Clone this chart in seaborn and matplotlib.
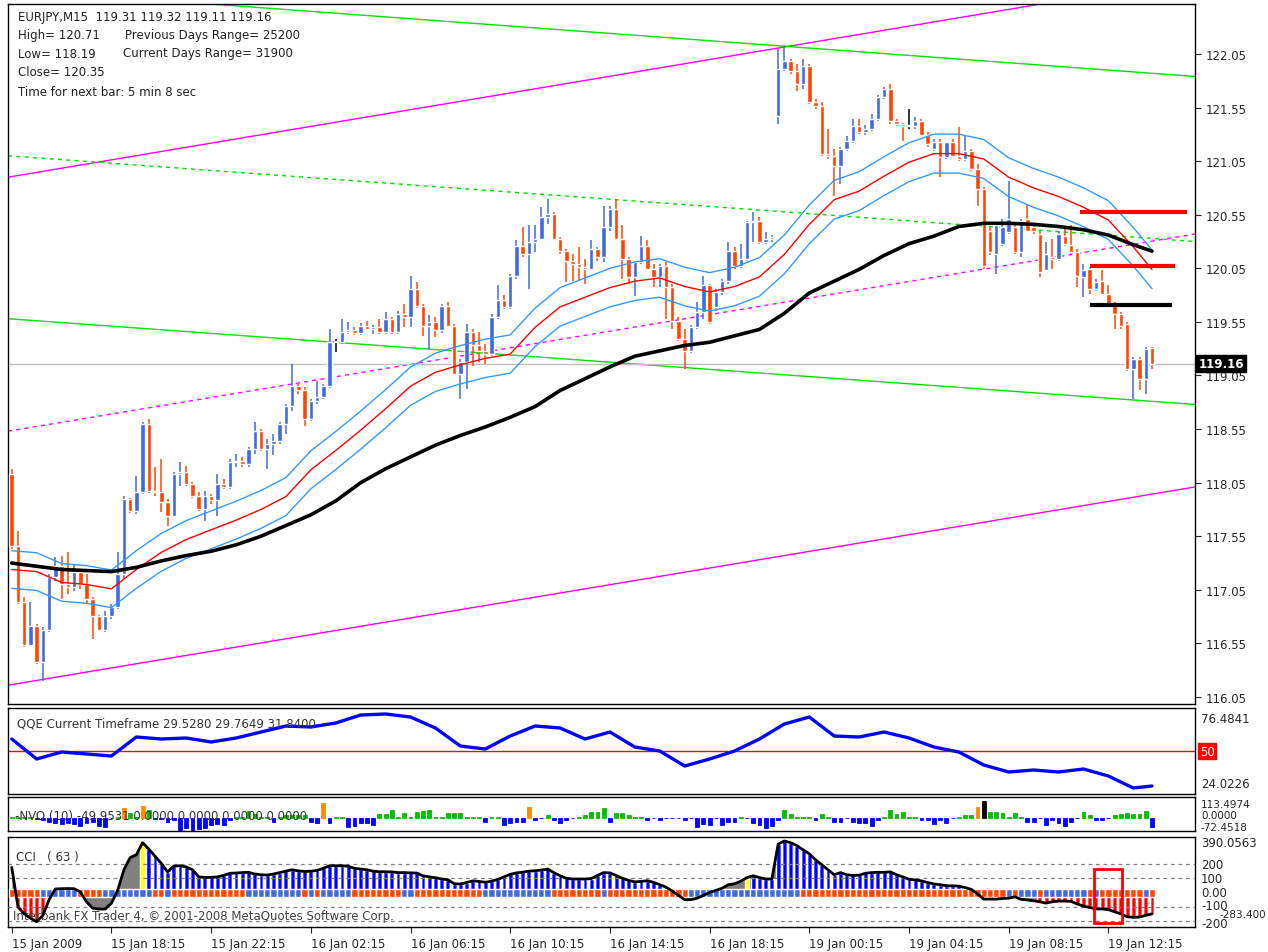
import numpy as np
import pandas as pd
import seaborn as sns
import matplotlib.pyplot as plt
import matplotlib.transforms as mtrans
from matplotlib.patches import Rectangle

sns.set_style('white')
plt.rcParams['font.family'] = ['DejaVu Sans']

# EURJPY M15 candles, 15 Jan 14:15 -> 19 Jan 14:00
opens = [118.13, 117.46, 116.94, 116.54, 116.71, 116.38, 116.68, 117.17, 117.27, 117.10,
         117.08, 117.22, 117.10, 116.96, 116.81, 116.68, 116.81, 116.89, 117.20, 117.90,
         117.79, 117.96, 118.60, 117.97, 117.96, 117.87, 117.74, 118.13, 118.15, 118.04,
         117.93, 117.80, 117.93, 117.89, 118.04, 118.01, 118.24, 118.25, 118.22, 118.36,
         118.53, 118.36, 118.41, 118.44, 118.60, 118.77, 118.95, 118.91, 118.64, 118.81,
         118.85, 118.95, 119.36, 119.36, 119.46, 119.47, 119.45, 119.51, 119.48, 119.50,
         119.46, 119.58, 119.46, 119.62, 119.60, 119.86, 119.70, 119.51, 119.55, 119.47,
         119.70, 119.51, 119.06, 119.18, 119.46, 119.33, 119.28, 119.25, 119.60, 119.75,
         119.69, 119.98, 120.26, 120.18, 120.30, 120.32, 120.53, 120.56, 120.32, 120.21,
         120.12, 120.09, 120.06, 120.04, 120.23, 120.16, 120.44, 120.60, 120.32, 120.14,
         119.97, 120.11, 120.26, 120.04, 119.97, 120.07, 119.88, 119.56, 119.39, 119.28,
         119.50, 119.64, 119.89, 119.69, 119.83, 119.93, 120.21, 120.07, 120.14, 120.48,
         120.49, 120.30, 120.32, 121.47, 121.91, 121.98, 121.89, 121.77, 121.94, 121.60,
         121.56, 121.12, 121.10, 121.00, 121.16, 121.24, 121.38, 121.32, 121.35, 121.44,
         121.65, 121.72, 121.42, 121.40, 121.38, 121.38, 121.42, 121.29, 121.16, 121.23,
         121.09, 121.23, 121.10, 121.07, 121.14, 120.98, 120.79, 120.40, 120.18, 120.28,
         120.39, 120.44, 120.20, 120.51, 120.44, 120.37, 120.03, 120.16, 120.14, 120.35,
         120.27, 120.20, 119.97, 120.04, 119.86, 119.93, 119.81, 119.72, 119.62, 119.53,
         119.11, 119.20, 119.02, 119.31]
highs = [118.18, 117.60, 116.98, 116.94, 116.73, 116.70, 117.20, 117.36, 117.37, 117.40,
         117.29, 117.24, 117.20, 116.98, 116.82, 116.85, 116.92, 117.40, 117.93, 117.91,
         118.11, 118.62, 118.64, 118.20, 118.27, 117.90, 118.15, 118.24, 118.21, 118.06,
         117.96, 117.97, 117.94, 118.13, 118.08, 118.27, 118.32, 118.29, 118.38, 118.62,
         118.55, 118.46, 118.50, 118.62, 118.78, 119.16, 118.97, 118.94, 118.83, 119.00,
         118.97, 119.48, 119.39, 119.58, 119.55, 119.50, 119.54, 119.56, 119.52, 119.58,
         119.64, 119.60, 119.65, 119.72, 119.98, 119.92, 119.72, 119.61, 119.60, 119.72,
         119.74, 119.53, 119.20, 119.53, 119.48, 119.46, 119.34, 119.62, 119.89, 119.80,
         120.00, 120.31, 120.44, 120.45, 120.45, 120.62, 120.70, 120.58, 120.34, 120.23,
         120.18, 120.25, 120.14, 120.31, 120.25, 120.63, 120.63, 120.70, 120.45, 120.16,
         120.12, 120.35, 120.31, 120.09, 120.09, 120.11, 119.90, 119.60, 119.48, 119.52,
         119.74, 119.98, 119.90, 119.86, 119.95, 120.30, 120.25, 120.28, 120.49, 120.58,
         120.53, 120.39, 120.36, 122.10, 122.12, 122.00, 121.96, 122.00, 121.96, 121.63,
         121.60, 121.35, 121.16, 121.18, 121.28, 121.44, 121.44, 121.39, 121.49, 121.67,
         121.74, 121.77, 121.44, 121.41, 121.54, 121.46, 121.44, 121.32, 121.26, 121.26,
         121.23, 121.26, 121.37, 121.29, 121.16, 121.02, 120.81, 120.44, 120.46, 120.51,
         120.86, 120.46, 120.51, 120.65, 120.46, 120.40, 120.30, 120.32, 120.40, 120.44,
         120.45, 120.23, 120.09, 120.06, 119.95, 120.03, 119.89, 119.74, 119.64, 119.55,
         119.22, 119.22, 119.32, 119.32]
lows = [117.43, 116.92, 116.52, 116.53, 116.36, 116.20, 116.66, 117.13, 116.96, 117.01,
        117.04, 117.06, 116.92, 116.59, 116.67, 116.66, 116.78, 116.87, 117.15, 117.77,
        117.76, 117.94, 117.95, 117.93, 117.78, 117.65, 117.73, 118.02, 118.02, 117.91,
        117.79, 117.69, 117.85, 117.74, 117.99, 117.99, 118.20, 118.20, 118.20, 118.32,
        118.35, 118.18, 118.31, 118.41, 118.50, 118.72, 118.88, 118.58, 118.63, 118.78,
        118.83, 118.93, 119.27, 119.34, 119.44, 119.43, 119.43, 119.47, 119.44, 119.44,
        119.44, 119.44, 119.44, 119.50, 119.50, 119.68, 119.42, 119.30, 119.41, 119.45,
        119.50, 119.05, 118.83, 118.92, 119.14, 119.18, 119.16, 119.23, 119.58, 119.67,
        119.67, 119.95, 120.16, 119.86, 120.20, 120.31, 120.46, 120.31, 120.18, 119.92,
        119.93, 119.93, 119.90, 120.03, 120.12, 120.11, 120.40, 120.31, 119.95, 119.90,
        119.79, 120.09, 120.03, 119.88, 119.88, 119.58, 119.48, 119.37, 119.11, 119.26,
        119.48, 119.58, 119.53, 119.65, 119.80, 119.90, 120.04, 120.05, 120.12, 120.30,
        120.28, 120.28, 120.30, 121.40, 121.89, 121.86, 121.70, 121.72, 121.58, 121.54,
        121.10, 121.07, 120.72, 120.84, 121.14, 121.22, 121.30, 121.29, 121.33, 121.42,
        121.63, 121.40, 121.38, 121.24, 121.35, 121.35, 121.28, 121.18, 121.14, 120.90,
        121.07, 121.09, 121.05, 121.05, 120.96, 120.63, 120.04, 120.17, 120.00, 120.26,
        120.37, 120.18, 120.16, 120.39, 120.37, 119.97, 120.03, 120.04, 120.12, 120.26,
        120.18, 119.88, 119.78, 119.81, 119.84, 119.80, 119.70, 119.48, 119.48, 119.09,
        118.83, 118.91, 118.88, 119.11]
closes = [117.46, 116.94, 116.54, 116.71, 116.38, 116.68, 117.17, 117.27, 117.10, 117.08,
          117.22, 117.10, 116.96, 116.81, 116.68, 116.81, 116.89, 117.20, 117.90, 117.79,
          117.96, 118.60, 117.97, 117.96, 117.87, 117.74, 118.13, 118.15, 118.04, 117.93,
          117.80, 117.93, 117.89, 118.04, 118.01, 118.24, 118.25, 118.22, 118.36, 118.53,
          118.36, 118.41, 118.44, 118.60, 118.77, 118.95, 118.91, 118.64, 118.81, 118.85,
          118.95, 119.36, 119.36, 119.46, 119.47, 119.45, 119.51, 119.48, 119.50, 119.46,
          119.58, 119.46, 119.62, 119.60, 119.86, 119.70, 119.51, 119.55, 119.47, 119.70,
          119.51, 119.06, 119.18, 119.46, 119.33, 119.28, 119.25, 119.60, 119.75, 119.69,
          119.98, 120.26, 120.18, 120.30, 120.32, 120.53, 120.56, 120.32, 120.21, 120.12,
          120.09, 120.06, 120.04, 120.23, 120.16, 120.44, 120.60, 120.32, 120.14, 119.97,
          120.11, 120.26, 120.04, 119.97, 120.07, 119.88, 119.56, 119.39, 119.28, 119.50,
          119.64, 119.89, 119.55, 119.83, 119.93, 120.21, 120.07, 120.14, 120.48, 120.49,
          120.30, 120.32, 120.34, 121.91, 121.98, 121.89, 121.77, 121.94, 121.60, 121.56,
          121.12, 121.10, 121.00, 121.16, 121.24, 121.38, 121.32, 121.35, 121.44, 121.65,
          121.72, 121.42, 121.40, 121.38, 121.38, 121.42, 121.29, 121.21, 121.23, 121.09,
          121.23, 121.10, 121.07, 121.14, 120.98, 120.79, 120.07, 120.20, 120.45, 120.44,
          120.51, 120.20, 120.49, 120.40, 120.40, 120.02, 120.18, 120.14, 120.37, 120.28,
          120.20, 119.98, 120.03, 119.86, 119.92, 119.81, 119.72, 119.62, 119.51, 119.11,
          119.20, 119.02, 119.30, 119.16]

# moving averages / QQE, read every 4th bar
ma_idx = list(range(0, 184, 4)) + [183]
black_ma = [117.30, 117.27, 117.24, 117.23, 117.22, 117.26, 117.32, 117.37, 117.41, 117.47,
            117.55, 117.65, 117.75, 117.88, 118.05, 118.18, 118.29, 118.40, 118.49, 118.57,
            118.66, 118.76, 118.91, 119.02, 119.13, 119.23, 119.28, 119.33, 119.36, 119.42,
            119.48, 119.63, 119.82, 119.93, 120.04, 120.17, 120.28, 120.35, 120.44, 120.47,
            120.47, 120.46, 120.44, 120.41, 120.36, 120.27, 120.21]
red_ma = [117.24, 117.22, 117.12, 117.10, 117.06, 117.24, 117.40, 117.52, 117.61, 117.70,
          117.80, 117.92, 118.17, 118.35, 118.54, 118.74, 118.95, 119.08, 119.15, 119.21,
          119.25, 119.50, 119.69, 119.78, 119.87, 119.93, 119.96, 119.88, 119.83, 119.88,
          119.97, 120.18, 120.46, 120.69, 120.77, 120.91, 121.04, 121.12, 121.12, 121.07,
          120.90, 120.80, 120.72, 120.62, 120.50, 120.25, 120.04]
env_dev = 0.0015
qqe = [57.57, 45.37, 49.64, 48.42, 47.20, 58.79, 57.57, 58.18, 55.74, 58.18,
       61.84, 65.50, 64.89, 67.33, 72.21, 72.82, 70.99, 64.28, 53.30, 51.47,
       59.40, 65.50, 64.28, 57.57, 61.84, 52.69, 50.25, 41.10, 45.37, 50.25,
       57.57, 66.72, 70.99, 59.40, 58.79, 61.84, 58.18, 52.69, 49.64, 41.71,
       37.44, 38.66, 37.44, 39.27, 35.00, 27.68, 28.90]

nvo = [3, 3, 3, 3, -5, -13, -24, -27, -36, -31,
       -36, -45, -31, -24, -45, -51, -3, 3, 55, 27,
       3, 64, 45, -5, -5, -24, -13, -73, -55, -67,
       -64, -55, -42, -36, -42, -10, 3, 3, 36, 20,
       3, 3, -24, 3, 15, 15, 15, 15, -24, -31,
       78, -31, 3, 3, -49, -45, -31, -27, -42, 18,
       18, 40, 3, 27, 3, 30, 36, 42, 3, 3,
       24, 24, 24, 3, 3, 3, -24, 3, 3, -42,
       -31, -24, -24, 60, -13, -3, 13, -13, -31, -13,
       -3, 3, 13, 31, 31, 51, -24, 24, 24, 13,
       3, 3, -13, -3, -13, -3, -3, -3, -13, -3,
       -51, -36, -42, -3, -42, -24, -24, 3, -3, -31,
       -42, -55, -45, -13, 42, 18, 3, 3, 3, -13,
       18, 3, -24, -24, -3, -24, -31, -31, -45, -13,
       3, 40, 18, 31, 3, 3, -13, -13, -36, -13,
       -27, -3, 3, 13, 13, 60, 91, 31, 31, 24,
       3, 24, 3, -24, -24, -3, -42, -13, -31, -45,
       -24, -3, 31, 13, -13, -13, -3, 13, 18, 24,
       18, 18, 36, -51]

cci = [177, -100, -150, -180, -205, -160, -50, 25, 27, 28, 27, 5, -65, -110, -116, -116, -75,
       15, 160, 245, 265, 350, 305, 255, 205, 145, 185, 188, 180, 160, 110, 106, 106, 110,
       120, 135, 137, 140, 142, 130, 125, 123, 130, 140, 150, 160, 152, 148, 150, 155, 170,
       188, 188, 188, 185, 170, 165, 160, 150, 146, 146, 145, 140, 140, 138, 137,
       117, 110, 104, 95, 90, 62, 60, 70, 82, 78, 72, 80, 92, 110, 128, 138, 143, 150, 153,
       158, 165, 140, 118, 100, 95, 95, 95, 98, 120, 140, 138, 120, 100, 85, 75, 78, 83, 72,
       55, 38, 10, -20, -50, -50, -40, -20, 0, 15, 30, 55, 62, 80, 105, 118, 105, 95, 95,
       340, 362, 350, 330, 300, 272, 230, 195, 160, 125,
       140, 125, 120, 122, 135, 140, 142, 142, 145, 125, 110, 93, 88, 82, 70, 60, 55, 48,
       47, 45, 35, 22, -10, -46, -46, -46, -42, -40, -30, -48, -52, -58, -65, -74, -65,
       -60, -60, -62, -80, -95, -105, -115, -115, -120, -135, -150, -170, -174, -172, -160, -150]
# histogram state runs: g=grey only, r=red, b=blue, y=yellow
cci_runs = [('g', 1), ('r', 5), ('g', 15), ('y', 1), ('b', 85), ('g', 11), ('y', 1),
            ('b', 36), ('g', 10), ('r', 19)]
# zero band colour runs: 1=blue, 0=red
band_runs = [(0, 5), (1, 6), (0, 4), (1, 8), (0, 2), (1, 1), (0, 12), (1, 9), (0, 1), (1, 1),
             (0, 1), (1, 5), (0, 8), (1, 2), (0, 11), (1, 11), (0, 8), (1, 1), (0, 13), (1, 18),
             (0, 33), (1, 1), (0, 1), (1, 3), (0, 1), (1, 7), (0, 1), (1, 1), (0, 7), (1, 1), (0, 1)]

price_ticks = [116.05, 116.55, 117.05, 117.55, 118.05, 118.55, 119.05, 119.55,
               120.05, 120.55, 121.05, 121.55, 122.05]
time_ticks = [0, 16, 32, 48, 64, 80, 96, 112, 128, 144, 160, 176]
time_labels = ['15 Jan 2009', '15 Jan 18:15', '15 Jan 22:15', '16 Jan 02:15', '16 Jan 06:15',
               '16 Jan 10:15', '16 Jan 14:15', '16 Jan 18:15', '19 Jan 00:15', '19 Jan 04:15',
               '19 Jan 08:15', '19 Jan 12:15']

# trend lines: two points each (bar index, price)
magenta_solid = [((-0.6, 120.90), (163.5, 122.50)), ((-0.6, 116.16), (189.9, 118.01))]
magenta_dash = ((-0.6, 118.53), (189.9, 120.37))
green_solid = [((31.0, 122.52), (189.9, 121.84)), ((-0.6, 119.58), (189.9, 118.78))]
green_dash = ((-0.6, 121.10), (189.9, 120.30))
levels = [(120.58, 171.5, 188.6, 'red'), (120.07, 173.1, 186.7, 'red'), (119.71, 173.1, 186.2, 'black')]

BULL, BEAR = '#4169E1', '#FF4500'
W, H = 1268, 953
XL = (-0.6, 189.9)


def box(l, t, r, b):
    return [l / W, 1 - b / H, (r - l) / W, (b - t) / H]


def runs(pairs):
    out = []
    for v, k in pairs:
        out += [v] * k
    return out


fig = plt.figure(figsize=(W / 100, H / 100), dpi=100)
ax = fig.add_axes(box(8, 5, 1195, 705))
ax_q = fig.add_axes(box(8, 709, 1195, 795))
ax_n = fig.add_axes(box(8, 798, 1195, 832))
ax_c = fig.add_axes(box(8, 838, 1195, 928))

df = pd.DataFrame({'n': np.arange(len(closes)), 'open': opens, 'high': highs,
                   'low': lows, 'close': closes})
col = np.where(df.close > df.open, BULL, np.where(df.close < df.open, BEAR, 'black'))
body_lo = np.minimum(df.open, df.close)
body_h = np.maximum((df.close - df.open).abs(), 0.01)

# ---- main price panel ----
for p1, p2 in magenta_solid:
    ax.axline(p1, p2, color='#FF00FF', lw=1, zorder=1)
ax.axline(*magenta_dash, color='#FF00FF', lw=1, ls=(0, (3, 3)), zorder=1)
for p1, p2 in green_solid:
    ax.axline(p1, p2, color='#00E000', lw=1, zorder=1)
ax.axline(*green_dash, color='#00E000', lw=1, ls=(0, (3, 3)), zorder=1)
ax.axhline(closes[-1], color='#C0C0C0', lw=1, zorder=1)

ax.vlines(df.n, df.low, df.high, colors=col, lw=1.1, zorder=3)
ax.bar(df.n, body_h, bottom=body_lo, width=0.72, color=col, zorder=3)

red_arr = np.array(red_ma)
sns.lineplot(x=ma_idx, y=red_arr * (1 + env_dev), ax=ax, color='#3399FF', lw=1, zorder=4)
sns.lineplot(x=ma_idx, y=red_arr * (1 - env_dev), ax=ax, color='#3399FF', lw=1, zorder=4)
sns.lineplot(x=ma_idx, y=red_arr, ax=ax, color='red', lw=1, zorder=4)
sns.lineplot(x=ma_idx, y=black_ma, ax=ax, color='black', lw=2.6, zorder=5)

for lv, x0, x1, c in levels:
    ax.hlines(lv, x0, x1, colors=c, lw=3, zorder=6)

ax.set_xlim(*XL)
ax.set_ylim(115.985, 122.516)
ax.yaxis.tick_right()
ax.set_yticks(price_ticks)
ax.set_yticklabels([f'{p:.2f}' for p in price_ticks])
ax.tick_params(axis='y', direction='out', length=4, pad=4, labelsize=8.5, right=True)
ax.set_xticks([])
trans = mtrans.blended_transform_factory(ax.transAxes, ax.transData)
ax.text(1.003, closes[-1], f'{closes[-1]:.2f}', transform=trans, va='center', ha='left',
        fontsize=8.5, color='white', fontweight='bold', zorder=10,
        bbox=dict(facecolor='black', edgecolor='black', pad=1.5))

# ---- QQE panel ----
ax_q.axhline(50, color='red', lw=1)
sns.lineplot(x=ma_idx, y=qqe, ax=ax_q, color='#0000FF', lw=2.4)
ax_q.set_xlim(*XL)
ax_q.set_ylim(24.0226, 76.4841)
tq = mtrans.blended_transform_factory(ax_q.transAxes, ax_q.transData)
ax_q.text(1.005, 69.8, '76.4841', transform=tq, va='center', fontsize=8.5)
ax_q.text(1.004, 50, '50', transform=tq, va='center', fontsize=8.5, color='white',
          bbox=dict(facecolor='red', edgecolor='red', pad=1))
ax_q.text(1.005, 30.7, '24.0226', transform=tq, va='center', fontsize=8.5)
ax_q.text(0.008, 0.82, 'QQE Current Timeframe 29.5280 29.7649 31.8400', transform=ax_q.transAxes,
          va='center', fontsize=8.5, color='#333333')

# ---- NVO panel ----
nv = np.array(nvo)
ncol = np.where(nv >= 80, 'black', np.where(nv >= 54, '#FF8C00', np.where(nv > 0, '#00C000', '#0000FF')))
ax_n.bar(np.arange(len(nvo)), nv, width=0.62, color=ncol, edgecolor=ncol, lw=0.6)
ax_n.set_xlim(*XL)
ax_n.set_ylim(-72.45, 113.50)
ax_n.text(1.005, 0.80, '113.4974', transform=ax_n.transAxes, va='center', fontsize=7.5)
ax_n.text(1.005, 0.47, '0.0000', transform=ax_n.transAxes, va='center', fontsize=7.5)
ax_n.text(1.005, 0.12, '-72.4518', transform=ax_n.transAxes, va='center', fontsize=7.5)
ax_n.text(0.006, 0.45, '-NVO (10) -49.9531 0.0000 0.0000 0.0000 0.0000', transform=ax_n.transAxes,
          va='center', fontsize=8.5, color='#333333')

# ---- CCI panel ----
cv = np.array(cci)
idx = np.arange(len(cci))
state = np.array(runs(cci_runs))
ax_c.fill_between(idx, 0, cv, color='#808080', lw=0, zorder=1)
for s, c in [('b', '#0000FF'), ('r', '#FF0000'), ('y', '#FFFF00')]:
    m = state == s
    ax_c.bar(idx[m], cv[m], width=0.78, color=c, zorder=2)
# white gaps between bars on coloured stretches
m = (state == 'b') | (state == 'r')
ax_c.bar(idx[m] + 0.5, cv[m], width=0.22, color='white', zorder=2.1)
band = np.array(runs(band_runs))
ax_c.bar(idx, 59, bottom=-34, width=1.0, color=np.where(band == 1, '#4169E1', '#FF4500'), zorder=3)
for lv in [200, 100, -100, -200]:
    ax_c.axhline(lv, color='#808080', lw=0.9, ls=(0, (3, 3)), zorder=4)
sns.lineplot(x=idx, y=cv, ax=ax_c, color='black', lw=2, zorder=5)
ax_c.add_patch(Rectangle((173.7, -214), 4.5, 379, fill=False, edgecolor='red', lw=2, zorder=6))
ax_c.set_xlim(*XL)
ax_c.set_ylim(-242, 390)
tc = mtrans.blended_transform_factory(ax_c.transAxes, ax_c.transData)
for v, s in [(350, '390.0563'), (200, '200'), (100, '100'), (0, '0.00'), (-90, '-100'),
             (-215, '-200')]:
    ax_c.text(1.005, v, s, transform=tc, va='center', fontsize=8.5)
ax_c.text(1.021, -152, '-283.400', transform=tc, va='center', fontsize=7.5)
ax_c.text(0.007, 0.78, 'CCI   ( 63 )', transform=ax_c.transAxes, va='center', fontsize=8.5,
          color='#333333')
ax_c.text(0.004, 0.13, 'Interbank FX Trader 4, \u00a9 2001-2008 MetaQuotes Software Corp.',
          transform=ax_c.transAxes, va='center', fontsize=8.5, color='#404040')
ax_c.set_xticks(time_ticks)
ax_c.set_xticklabels(time_labels, ha='left', fontsize=8.5)
ax_c.tick_params(axis='x', direction='out', length=4, pad=3, bottom=True)

for a in [ax, ax_q, ax_n, ax_c]:
    for sp in a.spines.values():
        sp.set_color('black')
        sp.set_linewidth(1)
    a.set_xlabel('')
    a.set_ylabel('')
    if a is not ax:
        a.set_yticks([])
    if a is not ax_c:
        a.set_xticks([])

# header
hdr = [(18, 18, 'EURJPY,M15  119.31 119.32 119.11 119.16'),
       (18, 35, 'High= 120.71'), (125, 35, 'Previous Days Range= 25200'),
       (18, 54, 'Low= 118.19'), (123, 54, 'Current Days Range= 31900'),
       (18, 73, 'Close= 120.35'), (18, 92, 'Time for next bar: 5 min 8 sec')]
for x, y, s in hdr:
    fig.text(x / W, 1 - y / H, s, fontsize=8.5, va='center', ha='left', color='#222222')

fig.savefig('out.png', dpi=100, facecolor='white')
